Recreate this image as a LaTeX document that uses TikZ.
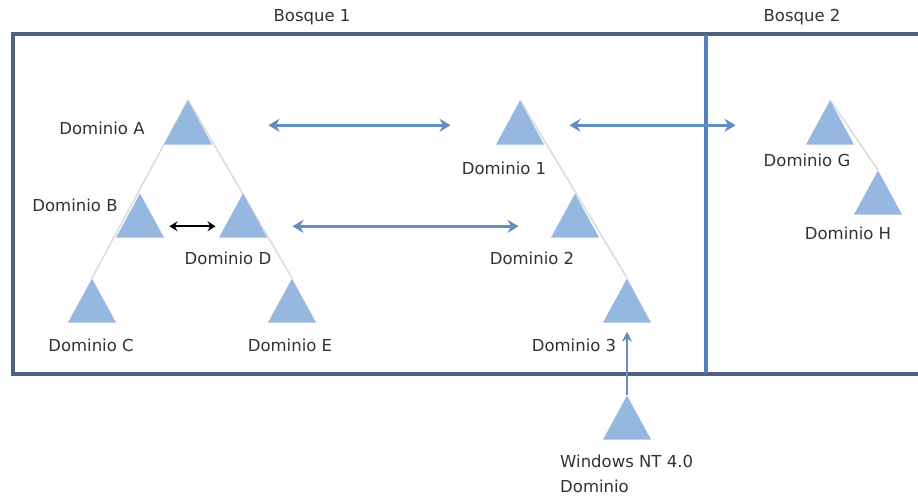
\documentclass[tikz,border=0pt]{standalone}
\usepackage{fontspec}
\setmainfont{DejaVu Sans}
\usetikzlibrary{arrows.meta,shapes.geometric,backgrounds}

\definecolor{trifill}{RGB}{149,183,224}
\definecolor{framecol}{RGB}{79,98,125}
\definecolor{divcol}{RGB}{84,130,182}
\definecolor{linkcol}{RGB}{96,142,190}
\definecolor{txtcol}{RGB}{50,50,50}

\tikzset{
  dom/.style={isosceles triangle, isosceles triangle stretches, shape border rotate=90,
    minimum width=48pt, minimum height=44pt, inner sep=0pt, fill=trifill, anchor=apex},
  lbl/.style={font=\fontsize{16.5}{19}\selectfont, text=txtcol, inner sep=0pt},
  link/.style={draw=linkcol, line width=3.4pt, {Stealth[length=11pt,width=13pt]}-{Stealth[length=11pt,width=13pt]}},
  tree/.style={draw=gray!30, line width=1.4pt}
}

\begin{document}
\begin{tikzpicture}[x=1pt,y=-1pt]
  \useasboundingbox (0,0) rectangle (918,496);

  % forests
  \draw[framecol, line width=3.6pt] (13,34) rectangle (930,374);
  \draw[divcol, line width=3.2pt] (706,35) -- (706,373);
  \node[lbl] (bosque1) at (312,17) {Bosque 1};
  \node[lbl] (bosque2) at (802,17) {Bosque 2};

  % domains
  \node[dom] (A) at (188,100) {};
  \node[dom] (B) at (140,193) {};
  \node[dom] (D) at (243,193) {};
  \node[dom] (C) at (92,278) {};
  \node[dom] (E) at (292,278) {};
  \node[dom] (D1) at (520,100) {};
  \node[dom] (D2) at (575,193) {};
  \node[dom] (D3) at (627,278) {};
  \node[dom] (G) at (830,100) {};
  \node[dom] (H) at (878,170) {};
  \node[dom] (NT) at (627,395) {};

  % tree lines
  \begin{scope}[on background layer]
    \draw[tree] (A.apex) -- (C.apex);
    \draw[tree] (A.apex) -- (E.apex);
    \draw[tree] (D1.apex) -- (D3.apex);
    \draw[tree] (G.apex) -- (H.apex);
  \end{scope}

  % labels
  \node[lbl] (labA) at (102,128) {Dominio A};
  \node[lbl] (labB) at (75,205) {Dominio B};
  \node[lbl] (labD) at (228,258) {Dominio D};
  \node[lbl] (labC) at (91,345) {Dominio C};
  \node[lbl] (labE) at (290,345) {Dominio E};
  \node[lbl] (lab1) at (504,168) {Dominio 1};
  \node[lbl] (lab2) at (532,258) {Dominio 2};
  \node[lbl] (lab3) at (574,345) {Dominio 3};
  \node[lbl] (labG) at (807,160) {Dominio G};
  \node[lbl] (labH) at (848,233) {Dominio H};
  \node[lbl, align=left, anchor=north west, font=\fontsize{16.5}{25}\selectfont] (labNT) at (560,455) {Windows NT 4.0\\Dominio};

  % trusts
  \draw[link, shorten <=64pt, shorten >=53pt] ([yshift=5pt]A.east) -- ([yshift=5pt]D1.west);
  \draw[link, shorten <=33pt, shorten >=78pt] ([yshift=5pt]D1.east) -- ([yshift=5pt]G.west);
  \draw[link, draw=black, line width=2.4pt, {Stealth[length=8pt,width=10pt]}-{Stealth[length=8pt,width=10pt]}, shorten <=13pt, shorten >=11pt] ([yshift=-3pt]B.east) -- ([yshift=-3pt]D.west);
  \draw[link, shorten <=33pt, shorten >=40pt] ([yshift=-3pt]D.east) -- ([yshift=-3pt]D2.west);
  \draw[link, line width=2.8pt, {Stealth[length=10pt,width=10pt]}-, shorten <=9pt] (D3.south) -- (NT.apex);
\end{tikzpicture}
\end{document}
